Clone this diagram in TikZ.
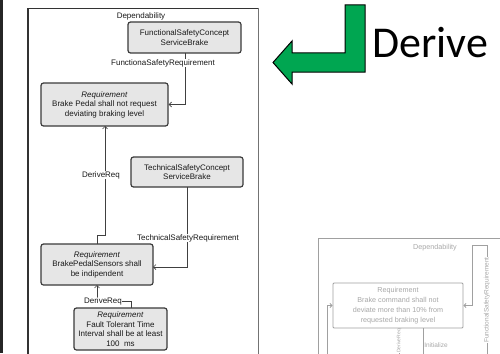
\documentclass[tikz,border=0pt]{standalone}
\usepackage{fontspec}
\setmainfont{Liberation Sans}
\newfontfamily\calibrifont{Carlito}
\usetikzlibrary{arrows.meta,calc}
\definecolor{boxfill}{HTML}{E6E6E6}
\definecolor{boxline}{HTML}{3A3A3A}
\definecolor{wire}{HTML}{404040}
\definecolor{arrowgreen}{HTML}{00A651}
\definecolor{faint}{HTML}{A0A0A0}
\definecolor{fainttext}{HTML}{A8A8A8}
\begin{document}
\begin{tikzpicture}[x=1pt,y=-1pt,
  reqbox/.style={draw=boxline, line width=1.2pt, fill=boxfill, rounded corners=2.5pt,
    align=center, inner sep=0pt, text=black!90, font=\fontsize{8}{9.5}\selectfont},
  rel/.style={draw=wire, line width=0.7pt},
  relarrow/.style={rel, -{Straight Barb[length=2.5pt,width=5pt]}},
  rellabel/.style={fill=white, inner sep=0.6pt, text=black!90, font=\fontsize{8}{9}\selectfont},
  thumbline/.style={draw=faint, line width=0.8pt},
  thumbarrow/.style={thumbline, -{Straight Barb[length=2pt,width=4pt]}},
  thumbbox/.style={draw=faint, line width=0.9pt, fill=white, rounded corners=1pt,
    align=center, inner sep=0pt, text=fainttext, font=\fontsize{7.2}{10}\selectfont},
  thumblabel/.style={fill=white, inner sep=0.5pt, text=fainttext, font=\fontsize{6.5}{7}\selectfont}
]
\useasboundingbox (0,0) rectangle (500,353);
\clip (0,0) rectangle (500,353);

% dark edge on the far left
\fill[black!85] (0,0) rectangle (3,353);

% ---------- main dependability diagram ----------
\draw[black!80, line width=1.3pt] (28,360) -- (28,8);
\draw[black!80, line width=0.8pt] (28,8) -- (258,8);
\draw[black!55, line width=0.9pt] (258,8) -- (258,360);

\node[text=black!90, font=\fontsize{8}{9}\selectfont] (dep) at (141,16) {Dependability};

\node[reqbox, minimum width=113pt, minimum height=31pt] (fsc) at (184.5,37.5)
  {FunctionalSafetyConcept\\ServiceBrake};
\node[reqbox, minimum width=127pt, minimum height=43pt] (req1) at (104.5,104.5)
  {\textit{Requirement}\\Brake Pedal shall not request\\deviating braking level};
\node[reqbox, minimum width=112pt, minimum height=30pt] (tsc) at (187,172)
  {TechnicalSafetyConcept\\ServiceBrake};
\node[reqbox, minimum width=112pt, minimum height=41pt] (req2) at (97,264.5)
  {\textit{Requirement}\\BrakePedalSensors shall\\be indipendent};
\node[reqbox, minimum width=93pt, minimum height=42pt] (req3) at (120.5,329)
  {\textit{Requirement}\\Fault Tolerant Time\\Interval shall be at least\\100~~ms};

% relations
\coordinate (fscout) at (185,53);
\draw[relarrow] (fscout) |- (req1.east);
\node[rellabel] (fsr) at (163,63) {FunctionaSafetyRequirement};

\coordinate (tscout) at (187,187);
\coordinate (req2in) at (153,267);
\draw[relarrow] (tscout) |- (req2in);
\node[rellabel] (tsr) at (188,238) {TechnicalSafetyRequirement};

\coordinate (req2top) at (97,244);
\coordinate (req1bot) at (105,126);
\draw[relarrow] (req2top) -- (97,235) -- (105,235) -- (req1bot);
\node[rellabel] (dr1) at (101,175) {DeriveReq};

\coordinate (req3top) at (131,308);
\coordinate (req2bot) at (97,285);
\draw[relarrow] (req3top) -- (131,301) -- (97,301) -- (req2bot);
\node[rellabel] (dr2) at (103,301) {DeriveReq};

% ---------- green arrow and caption ----------
\filldraw[fill=arrowgreen, draw=black, line width=1pt, line join=miter]
  (345,5) -- (365,5) -- (365,72) -- (292,72) -- (292,84) -- (273,62.5)
  -- (292,41) -- (292,53) -- (345,53) -- cycle;
\node[anchor=base west, inner sep=0pt, font=\calibrifont\fontsize{44}{44}\selectfont]
  (derive) at (372,57) {Derive};

% ---------- small view of the next diagram ----------
\draw[thumbline] (318,360) -- (318,238) -- (505,238);
\node[text=fainttext, font=\fontsize{7.2}{8}\selectfont] (tdep) at (435,248) {Dependability};
\node[thumbbox, minimum width=130pt, minimum height=45pt] (tbox) at (398,305.5)
  {Requirement\\Brake command shall not\\deviate more than 10\% from\\requested braking level};

\coordinate (tright) at (487,360);
\draw[thumbarrow] (tright) -- (487,245) -- (472,245) |- (tbox.east);
\node[thumblabel, rotate=90] (tfsr) at (487,300) {FunctionalSafetyRequirement};

\coordinate (tleft) at (327,360);
\draw[thumbarrow] (tleft) |- (tbox.west);

\coordinate (tlow) at (399,360);
\draw[thumbarrow] (tlow) -- (tbox.south -| tlow);
\node[thumblabel, rotate=90, font=\fontsize{5}{6}\selectfont] (tdr) at (399,341) {DeriveReq};

\coordinate (tinit) at (423,360);
\draw[thumbline] (tinit) -- (tbox.south -| tinit);
\node[thumblabel] (tini) at (436,345) {Initialize};
\end{tikzpicture}
\end{document}
